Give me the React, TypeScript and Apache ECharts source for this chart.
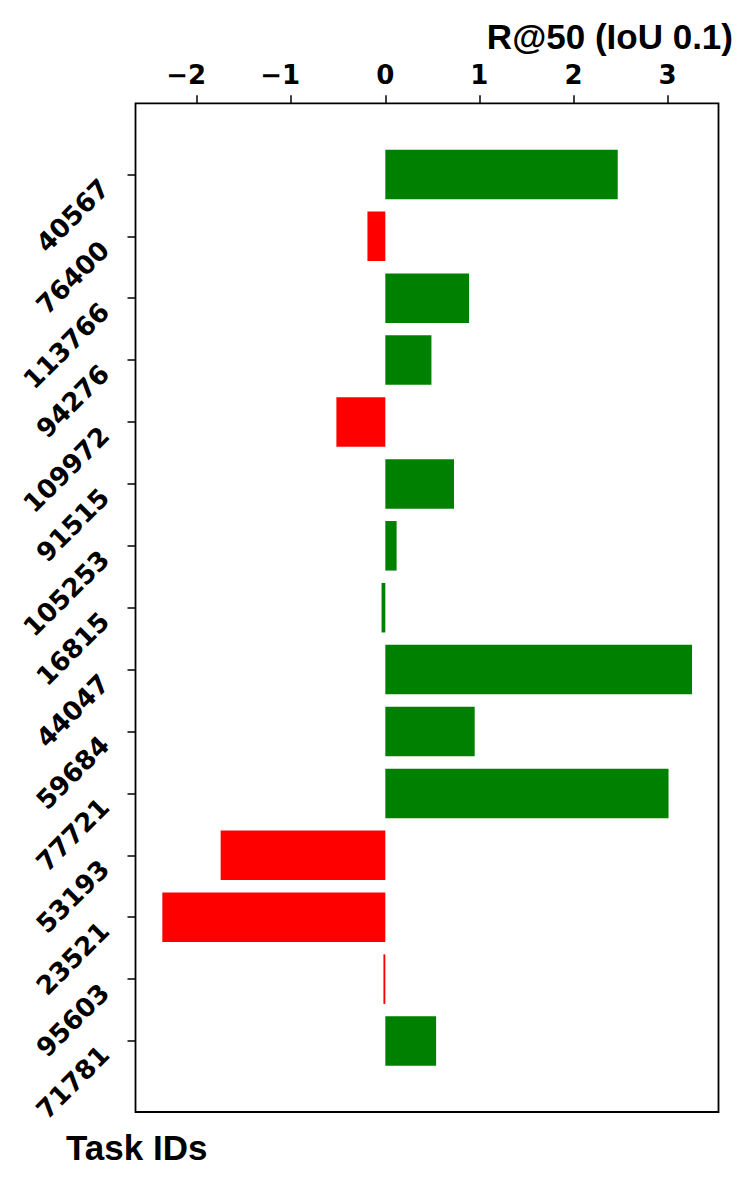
import React, { useEffect, useRef } from "react";
import * as echarts from "echarts";

const categories = ["40567", "76400", "113766", "94276", "109972", "91515", "105253", "16815", "44047", "59684", "77721", "53193", "23521", "95603", "71781"];
const values = [2.47, -0.19, 0.89, 0.49, -0.52, 0.73, 0.12, -0.04, 3.26, 0.95, 3.01, -1.75, -2.37, -0.02, 0.54];
const barColors = ["#008000", "#ff0000", "#008000", "#008000", "#ff0000", "#008000", "#008000", "#008000", "#008000", "#008000", "#008000", "#ff0000", "#ff0000", "#ff0000", "#008000"];
const xTicks = [-2, -1, 0, 1, 2, 3];
const xTitle = "R@50 (IoU 0.1)";
const yTitle = "Task IDs";

const W = 747;
const H = 1178;
const frameLeft = 135.5;
const frameRight = 718.5;
const frameTop = 103.3;
const frameBottom = 1112;
const band = 61.9;
const firstCenter = 174.4;
const gridTop = firstCenter - band / 2;
const gridHeight = band * categories.length;

export default function App() {
  const ref = useRef<HTMLDivElement>(null);
  useEffect(() => {
    if (!ref.current) return;
    const chart = echarts.init(ref.current, null, { renderer: "svg" });
    const tickFont = { fontFamily: "DejaVu Sans", fontWeight: "bold" as const, fontSize: 26, color: "#000" };
    chart.setOption({
      animation: false,
      grid: { left: frameLeft, width: frameRight - frameLeft, top: gridTop, height: gridHeight, containLabel: false },
      xAxis: {
        type: "value",
        position: "top",
        min: -2.655,
        max: 3.541,
        offset: gridTop - frameTop,
        axisLine: { show: false, onZero: false },
        splitLine: { show: false },
        axisTick: { show: true, length: 8, customValues: xTicks, lineStyle: { color: "#000", width: 1.5 } },
        axisLabel: {
          ...tickFont,
          margin: 15,
          customValues: xTicks,
          formatter: (v: number) => (v < 0 ? "\u2212" + Math.abs(v) + "{sp| }" : String(v)),
          rich: { sp: { width: 22, fontFamily: "DejaVu Sans", fontWeight: "bold", fontSize: 26 } },
        },
      },
      yAxis: {
        type: "category",
        data: categories,
        inverse: true,
        position: "left",
        axisLine: { show: false, onZero: false },
        splitLine: { show: false },
        axisTick: { show: true, length: 8, alignWithLabel: true, lineStyle: { color: "#000", width: 1.5 } },
        axisLabel: { ...tickFont, rotate: 45, align: "right", verticalAlign: "top", margin: 40 },
      },
      series: [
        {
          type: "bar",
          barWidth: "80%",
          data: values.map((v, i) => ({ value: v, itemStyle: { color: barColors[i] } })),
        },
      ],
      graphic: [
        {
          type: "rect",
          shape: { x: frameLeft, y: frameTop, width: frameRight - frameLeft, height: frameBottom - frameTop },
          style: { fill: "none", stroke: "#000", lineWidth: 1.8 },
          z: 100,
        },
        {
          type: "text",
          x: 733,
          y: 36,
          style: { text: xTitle, fill: "#000", font: "bold 35px 'Liberation Sans', Arial, sans-serif", textAlign: "right", textVerticalAlign: "middle" },
        },
        {
          type: "text",
          x: 66,
          y: 1147,
          style: { text: yTitle, fill: "#000", font: "bold 35px 'Liberation Sans', Arial, sans-serif", textAlign: "left", textVerticalAlign: "middle" },
        },
      ],
    });
    return () => chart.dispose();
  }, []);
  return <div ref={ref} style={{ position: "fixed", left: 0, top: 0, width: W, height: H, background: "#fff" }} />;
}
